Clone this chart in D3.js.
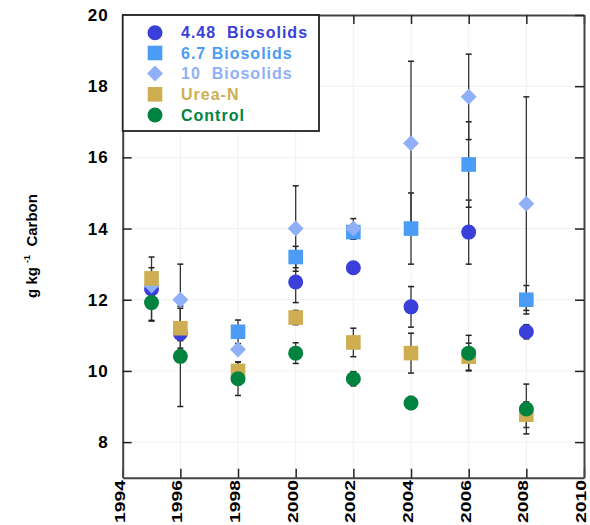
<!DOCTYPE html>
<html><head><meta charset="utf-8">
<script src="https://cdn.jsdelivr.net/npm/d3@7"></script>
<style>body{margin:0;background:#fff}svg{display:block}text{font-family:Arial,"Liberation Sans",sans-serif;font-weight:bold}</style>
</head><body>
<svg id="c" width="590" height="525"></svg>
<script>
const years = [1995, 1996, 1998, 2000, 2002, 2004, 2006, 2008];
const bio448 = [12.3, 11.05, null, 12.5, 12.9, 11.8, 13.9, 11.1];
const bio448Err = [0.9, 0.2, null, 0.58, 0.1, 0.57, 0.9, 0.2];
const bio67 = [null, null, 11.1, 13.2, 13.9, 14.0, 15.8, 12.0];
const bio67Err = [null, null, 0.33, 0.3, 0.2, 1.0, 1.2, 0.4];
const bio10 = [12.4, 12.0, 10.6, 14.0, 14.0, 16.4, 17.7, 14.7];
const bio10Err = [0.2, 1.0, 0.1, 1.2, 0.28, 2.3, 1.2, 3.0];
const urea = [12.6, 11.2, 10.0, 11.5, 10.8, 10.5, 10.4, 8.77];
const ureaErr = [0.3, 0.56, 0.25, 0.2, 0.4, 0.56, 0.38, 0.36];
const control = [11.92, 10.41, 9.78, 10.5, 9.78, 9.1, 10.5, 8.93];
const controlErr = [0.5, 1.41, 0.47, 0.29, 0.2, 0.18, 0.5, 0.7];
const seriesNames = ["4.48  Biosolids", "6.7 Biosolids", "10  Biosolids", "Urea-N", "Control"];
const xTicks = [1994, 1996, 1998, 2000, 2002, 2004, 2006, 2008, 2010];
const yTicks = [8, 10, 12, 14, 16, 18, 20];
const yLabel = "g kg";

(function () {
const series = [
  {name: seriesNames[0], v: bio448, e: bio448Err, color: "#3b3fd9", shape: "circle"},
  {name: seriesNames[1], v: bio67, e: bio67Err, color: "#4a9cf4", shape: "square"},
  {name: seriesNames[2], v: bio10, e: bio10Err, color: "#8fb0f6", shape: "diamond"},
  {name: seriesNames[3], v: urea, e: ureaErr, color: "#cfae52", shape: "square"},
  {name: seriesNames[4], v: control, e: controlErr, color: "#00833f", shape: "circle"}
];

const L = 122.7, R = 584, T = 15, B = 477.7;
const svg = d3.select("#c");
const x = d3.scaleLinear().domain([1994, 2010]).range([L, R]);
const y = d3.scaleLinear().domain([7, 20]).range([B, T]);

// faint grid
const g = svg.append("g");
g.selectAll("line.gx").data(xTicks.slice(1, -1)).enter().append("line")
  .attr("x1", d => x(d)).attr("x2", d => x(d)).attr("y1", T).attr("y2", B)
  .attr("stroke", "#f1f1f1").attr("stroke-width", 1);
g.selectAll("line.gy").data(yTicks.slice(0, -1)).enter().append("line")
  .attr("x1", L).attr("x2", R).attr("y1", d => y(d)).attr("y2", d => y(d))
  .attr("stroke", "#f1f1f1").attr("stroke-width", 1);

// axes
const axStyle = sel => { sel.select(".domain").attr("stroke", "#444").attr("stroke-width", 2); sel.selectAll(".tick line").attr("stroke", "#222").attr("stroke-width", 1.5); };
const axB = svg.append("g").attr("transform", `translate(0,${B})`)
  .call(d3.axisBottom(x).tickValues(xTicks).tickFormat(d3.format("d")).tickSizeInner(-9).tickSizeOuter(0));
axStyle(axB);
axB.selectAll(".tick text").attr("font-size", 15.5).attr("fill", "#000")
  .attr("transform", "rotate(-90) scale(1.24,1)").attr("text-anchor", "end")
  .attr("x", -2).attr("y", -4).attr("dy", "0.35em");
const axT = svg.append("g").attr("transform", `translate(0,${T})`)
  .call(d3.axisTop(x).tickValues(xTicks).tickFormat("").tickSizeInner(-9).tickSizeOuter(0));
axStyle(axT);
const axL = svg.append("g").attr("transform", `translate(${L},0)`)
  .call(d3.axisLeft(y).tickValues(yTicks).tickSizeInner(-9).tickSizeOuter(0).tickPadding(14));
axStyle(axL);
axL.selectAll(".tick text").attr("font-size", 17).attr("fill", "#000").style("letter-spacing", "1px");
const axR = svg.append("g").attr("transform", `translate(${R},0)`)
  .call(d3.axisRight(y).tickValues(yTicks).tickFormat("").tickSizeInner(-9).tickSizeOuter(0));
axStyle(axR);

// y title
const yt = svg.append("text").attr("transform", "translate(37,246) rotate(-90)")
  .attr("text-anchor", "middle").attr("font-size", 15).attr("fill", "#000");
yt.append("tspan").text(yLabel + " ");
yt.append("tspan").attr("font-size", 9).attr("dy", -7).text("-1");
yt.append("tspan").attr("dy", 7).attr("xml:space", "preserve").text("  Carbon");

// error bars
const eb = svg.append("g");
series.forEach(s => {
  years.forEach((yr, i) => {
    if (s.v[i] == null || s.e[i] == null) return;
    const cx = x(yr), y1 = y(s.v[i] + s.e[i]), y2 = y(s.v[i] - s.e[i]);
    eb.append("line").attr("x1", cx).attr("x2", cx).attr("y1", y1).attr("y2", y2).attr("stroke", "#333").attr("stroke-width", 1.3);
    [y1, y2].forEach(yy => eb.append("line").attr("x1", cx - 3).attr("x2", cx + 3).attr("y1", yy).attr("y2", yy).attr("stroke", "#222").attr("stroke-width", 1.5));
  });
});

function drawShape(sel, shape, color, cx, cy) {
  if (shape === "circle") sel.append("circle").attr("cx", cx).attr("cy", cy).attr("r", 7.5).attr("fill", color);
  else if (shape === "square") sel.append("rect").attr("x", cx - 7.3).attr("y", cy - 7.3).attr("width", 14.6).attr("height", 14.6).attr("fill", color);
  else sel.append("path").attr("d", `M${cx},${cy - 8}L${cx + 8},${cy}L${cx},${cy + 8}L${cx - 8},${cy}Z`).attr("fill", color);
}

const mk = svg.append("g");
series.forEach(s => {
  years.forEach((yr, i) => {
    if (s.v[i] == null) return;
    drawShape(mk, s.shape, s.color, x(yr), y(s.v[i]));
  });
});

// legend
const lg = svg.append("g");
lg.append("rect").attr("x", 122.7).attr("y", 15).attr("width", 196.3).attr("height", 116)
  .attr("fill", "#fff").attr("stroke", "#222").attr("stroke-width", 1.8);
const rowY = [32.7, 53, 73.6, 94.3, 115];
series.forEach((s, i) => {
  drawShape(lg, s.shape, s.color, 155, rowY[i]);
  lg.append("text").attr("x", 181).attr("y", rowY[i]).attr("dy", "0.36em")
    .attr("font-size", 16).style("letter-spacing", "1px").attr("fill", s.color)
    .attr("xml:space", "preserve").text(s.name);
});
})();
</script>
</body></html>
